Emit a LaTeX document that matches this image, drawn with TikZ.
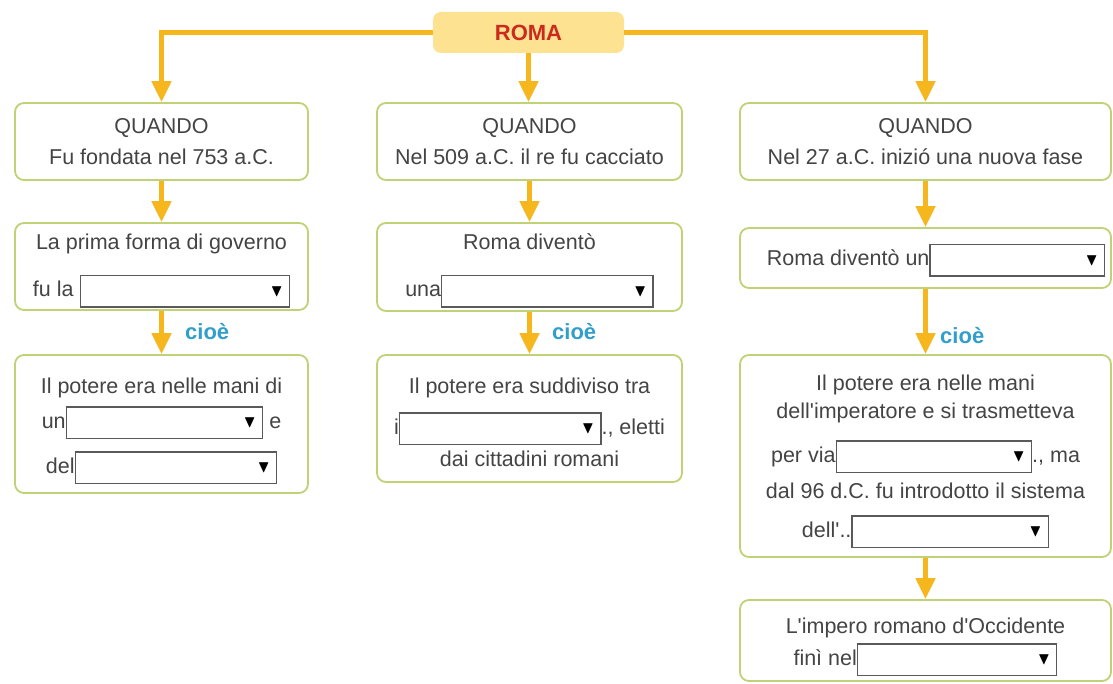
\documentclass[tikz,border=0pt]{standalone}
\usepackage{fontspec}
\setmainfont{Liberation Sans}
\usepackage{amssymb}
\usetikzlibrary{arrows.meta}

\definecolor{boxgreen}{RGB}{192,210,118}
\definecolor{arroworange}{RGB}{246,182,30}
\definecolor{romafill}{RGB}{253,226,145}
\definecolor{romared}{RGB}{204,42,30}
\definecolor{cioeblue}{RGB}{50,158,205}
\definecolor{textgray}{RGB}{68,68,68}
\definecolor{ddgray}{RGB}{90,90,90}

\newcommand{\ap}{\textquotesingle}
\newcommand{\ddtri}{\fontsize{17}{17}\selectfont\color{black}$\blacktriangledown$}
\newcommand{\dropbox}[1]{\raisebox{-9.5pt}{\setlength{\fboxsep}{0pt}\setlength{\fboxrule}{1.3pt}%
  \fcolorbox{ddgray}{white}{\makebox[#1pt][r]{\rule{0pt}{30pt}\raisebox{10pt}{\ddtri}\hspace{6pt}}}}}

\begin{document}
\begin{tikzpicture}[x=1pt, y=-1pt,
  box/.style={draw=boxgreen, line width=1.8pt, rounded corners=9pt, fill=white, inner sep=0pt},
  link/.style={draw=arroworange, line width=4.5pt, -{Triangle[width=19pt,length=21pt]}},
  txt/.style={anchor=base, inner sep=0pt, text=textgray, font=\fontsize{21.5}{26}\selectfont},
  cioe/.style={anchor=base west, inner sep=0pt, text=cioeblue, font=\fontsize{22}{26}\selectfont\bfseries}]
	\useasboundingbox[fill=white] (0,0) rectangle (1113,684);

	% vertice
	\node[fill=romafill, rounded corners=8pt, minimum width=191pt, minimum height=41pt, inner sep=0pt,
	  text=romared, font=\fontsize{22}{26}\selectfont\bfseries] (roma) at (528.5,32.5) {ROMA};

	% riquadri
	\node[box, minimum width=293pt, minimum height=77pt] (q1) at (161.5,141.5) {};
	\node[box, minimum width=305pt, minimum height=77pt] (q2) at (529.5,141.5) {};
	\node[box, minimum width=371pt, minimum height=77pt] (q3) at (925.5,141.5) {};
	\node[box, minimum width=293pt, minimum height=87pt] (g1) at (161.5,266.5) {};
	\node[box, minimum width=305pt, minimum height=88pt] (g2) at (529.5,267) {};
	\node[box, minimum width=371pt, minimum height=60pt] (g3) at (925.5,258) {};
	\node[box, minimum width=293pt, minimum height=138pt] (p1) at (161.5,424) {};
	\node[box, minimum width=305pt, minimum height=127pt] (p2) at (529.5,418.5) {};
	\node[box, minimum width=371pt, minimum height=202pt] (p3) at (925.5,456) {};
	\node[box, minimum width=371pt, minimum height=81pt] (fine) at (925.5,640.5) {};

	% frecce
	\draw[link] (roma.west) -| (q1.north);
	\draw[link] (roma.east) -| (q3.north);
	\draw[link] (roma.south) -- (roma.south |- q2.north);
	\draw[link] (q1) -- (g1);
	\draw[link] (q2) -- (g2);
	\draw[link] (q3) -- (g3);
	\draw[link] (g1) -- (p1);
	\draw[link] (g2) -- (p2);
	\draw[link] (g3) -- (p3);
	\draw[link] (p3) -- (fine);
	\node[cioe] (c1) at (185,340) {cioè};
	\node[cioe] (c2) at (552,340) {cioè};
	\node[cioe] (c3) at (940,344) {cioè};

	% testi
	\node[txt] (q1a) at (161.5,134) {QUANDO};
	\node[txt] (q1b) at (161.5,165) {Fu fondata nel 753 a.C.};
	\node[txt] (q2a) at (529.5,134) {QUANDO};
	\node[txt] (q2b) at (529.5,165) {Nel 509 a.C. il re fu cacciato};
	\node[txt] (q3a) at (925.5,134) {QUANDO};
	\node[txt] (q3b) at (925.5,165) {Nel 27 a.C. inizió una nuova fase};

	\node[txt] (g1a) at (161.5,250) {La prima forma di governo};
	\node[txt] (g1b) at (161.5,297) {fu la \dropbox{208}};
	\node[txt] (g2a) at (529.5,250) {Roma diventò};
	\node[txt] (g2b) at (529.5,297) {una\dropbox{210}};
	\node[txt] (g3a) at (936,266) {Roma diventò un\dropbox{173}};

	\node[txt] (p1a) at (161.5,393) {Il potere era nelle mani di};
	\node[txt] (p1b) at (161.5,428) {un\dropbox{195} e};
	\node[txt] (p1c) at (161.5,473) {del\dropbox{200}};
	\node[txt] (p2a) at (529.5,393) {Il potere era suddiviso tra};
	\node[txt] (p2b) at (529.5,434) {i\dropbox{200}., eletti};
	\node[txt] (p2c) at (529.5,466) {dai cittadini romani};
	\node[txt] (p3a) at (925.5,390) {Il potere era nelle mani};
	\node[txt] (p3b) at (925.5,418) {dell\ap imperatore e si trasmetteva};
	\node[txt] (p3c) at (925.5,462) {per via\dropbox{194}., ma};
	\node[txt] (p3d) at (925.5,498) {dal 96 d.C. fu introdotto il sistema};
	\node[txt] (p3e) at (925.5,537) {dell\ap..\dropbox{195}};

	\node[txt] (finea) at (925.5,633) {L\ap impero romano d\ap Occidente};
	\node[txt] (fineb) at (925.5,665) {finì nel\dropbox{198}};
\end{tikzpicture}
\end{document}
